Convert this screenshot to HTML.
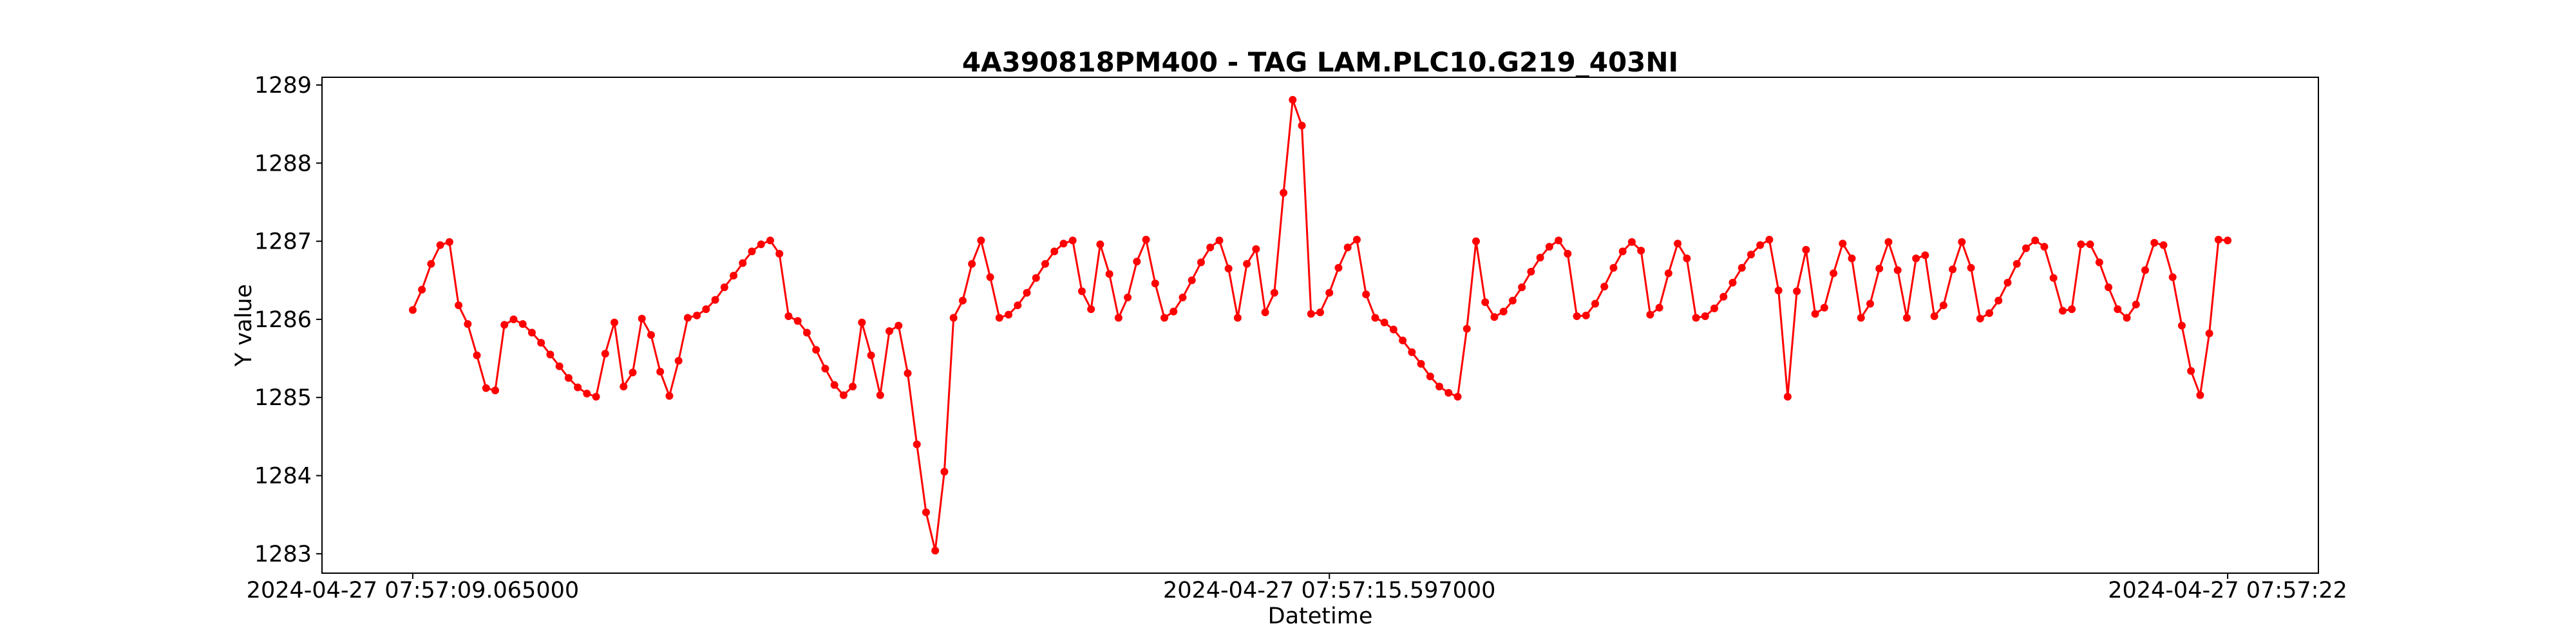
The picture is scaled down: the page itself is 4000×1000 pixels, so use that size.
<!DOCTYPE html>
<html>
<head>
<meta charset="utf-8">
<style>
  html,body{margin:0;padding:0;background:#fff;}
  svg{display:block;}
  text{font-family:"DejaVu Sans","Liberation Sans",sans-serif;fill:#000;}
</style>
</head>
<body>
<svg id="chart" width="4000" height="1000" viewBox="0 0 4000 1000" xmlns="http://www.w3.org/2000/svg">
  <rect x="0" y="0" width="4000" height="1000" fill="#fff"/>
  <text x="2050" y="111" font-size="42" font-weight="bold" text-anchor="middle">4A390818PM400 - TAG LAM.PLC10.G219_403NI</text>
  <text x="2050" y="968" font-size="35" text-anchor="middle">Datetime</text>
  <text x="0" y="0" font-size="35" text-anchor="middle" transform="translate(390,505) rotate(-90)">Y value</text>
  <g id="yticks"></g>
  <g id="xticks"></g>
  <g id="series"></g>
  <rect x="500" y="120" width="3100" height="770" fill="none" stroke="#000" stroke-width="2"/>
</svg>
<script>
const values = [
1286.12,1286.38,1286.71,1286.95,1286.99,1286.18,1285.94,1285.54,1285.12,1285.09,
1285.93,1286.00,1285.94,1285.83,1285.70,1285.55,1285.40,1285.25,1285.13,1285.05,
1285.01,1285.56,1285.96,1285.14,1285.32,1286.01,1285.80,1285.33,1285.02,1285.47,
1286.02,1286.05,1286.13,1286.25,1286.41,1286.56,1286.72,1286.87,1286.96,1287.01,
1286.84,1286.04,1285.98,1285.83,1285.61,1285.37,1285.16,1285.03,1285.14,1285.96,
1285.54,1285.03,1285.85,1285.92,1285.31,1284.40,1283.53,1283.04,1284.05,1286.02,
1286.24,1286.71,1287.01,1286.54,1286.02,1286.06,1286.18,1286.34,1286.53,1286.71,
1286.87,1286.97,1287.01,1286.36,1286.13,1286.96,1286.58,1286.02,1286.28,1286.74,
1287.02,1286.46,1286.02,1286.10,1286.28,1286.50,1286.73,1286.92,1287.01,1286.65,
1286.02,1286.71,1286.90,1286.09,1286.34,1287.62,1288.81,1288.48,1286.07,1286.09,
1286.34,1286.66,1286.92,1287.02,1286.32,1286.02,1285.96,1285.87,1285.73,1285.58,
1285.43,1285.27,1285.14,1285.06,1285.01,1285.88,1287.00,1286.22,1286.03,1286.10,
1286.24,1286.41,1286.61,1286.79,1286.93,1287.01,1286.84,1286.04,1286.05,1286.20,
1286.42,1286.66,1286.87,1286.99,1286.88,1286.06,1286.15,1286.59,1286.97,1286.78,
1286.02,1286.04,1286.14,1286.29,1286.47,1286.66,1286.83,1286.95,1287.02,1286.37,
1285.01,1286.36,1286.89,1286.07,1286.15,1286.59,1286.97,1286.78,1286.02,1286.20,
1286.65,1286.99,1286.63,1286.02,1286.78,1286.82,1286.04,1286.18,1286.64,1286.99,
1286.66,1286.01,1286.08,1286.24,1286.47,1286.71,1286.91,1287.01,1286.93,1286.53,
1286.11,1286.13,1286.96,1286.96,1286.73,1286.41,1286.13,1286.02,1286.19,1286.63,
1286.98,1286.95,1286.54,1285.92,1285.34,1285.03,1285.82,1287.02,1287.01
];
const yTickValues = [1283,1284,1285,1286,1287,1288,1289];
const xTickLabels = ["2024-04-27 07:57:09.065000","2024-04-27 07:57:15.597000","2024-04-27 07:57:22"];
const xTickIndex = [0, 100, 198];

const NS = "http://www.w3.org/2000/svg";
const L = 500, R = 3600, T = 120, B = 890;
const n = values.length;
const xPad = (n - 1) * 0.05;
const xMin = -xPad, xMax = (n - 1) + xPad;
const vMin = Math.min(...values), vMax = Math.max(...values);
const yPad = (vMax - vMin) * 0.05;
const yMin = vMin - yPad, yMax = vMax + yPad;
function xScale(i){ return L + (i - xMin) / (xMax - xMin) * (R - L); }
function yScale(v){ return B - (v - yMin) / (yMax - yMin) * (B - T); }

const yg = document.getElementById('yticks');
yTickValues.forEach(v => {
  if (v < yMin || v > yMax) return;
  const y = yScale(v);
  const ln = document.createElementNS(NS, 'line');
  ln.setAttribute('x1', L - 9); ln.setAttribute('x2', L);
  ln.setAttribute('y1', y); ln.setAttribute('y2', y);
  ln.setAttribute('stroke', '#000'); ln.setAttribute('stroke-width', 2);
  
  
  yg.appendChild(ln);
  const t = document.createElementNS(NS, 'text');
  t.setAttribute('x', L - 16); t.setAttribute('y', y + 12);
  t.setAttribute('font-size', '35'); t.setAttribute('text-anchor', 'end');
  t.textContent = String(v);
  
  
  yg.appendChild(t);
});

const xg = document.getElementById('xticks');
xTickIndex.forEach((idx, k) => {
  const x = xScale(idx);
  const ln = document.createElementNS(NS, 'line');
  ln.setAttribute('x1', x); ln.setAttribute('x2', x);
  ln.setAttribute('y1', B); ln.setAttribute('y2', B + 9);
  ln.setAttribute('stroke', '#000'); ln.setAttribute('stroke-width', 2);
  
  
  xg.appendChild(ln);
  const t = document.createElementNS(NS, 'text');
  t.setAttribute('x', x); t.setAttribute('y', B + 38);
  t.setAttribute('font-size', '35'); t.setAttribute('text-anchor', 'middle');
  t.textContent = xTickLabels[k];
  
  
  xg.appendChild(t);
});

const sg = document.getElementById('series');
const pl = document.createElementNS(NS, 'polyline');
pl.setAttribute('points', values.map((v, i) => xScale(i).toFixed(1) + ',' + yScale(v).toFixed(1)).join(' '));
pl.setAttribute('fill', 'none'); pl.setAttribute('stroke', '#ff0000');
pl.setAttribute('stroke-width', 3); pl.setAttribute('stroke-linejoin', 'round');


sg.appendChild(pl);
values.forEach((v, i) => {
  const c = document.createElementNS(NS, 'circle');
  c.setAttribute('cx', xScale(i)); c.setAttribute('cy', yScale(v));
  c.setAttribute('r', 6); c.setAttribute('fill', '#ff0000');
  
  
  sg.appendChild(c);
});
</script>
</body>
</html>
